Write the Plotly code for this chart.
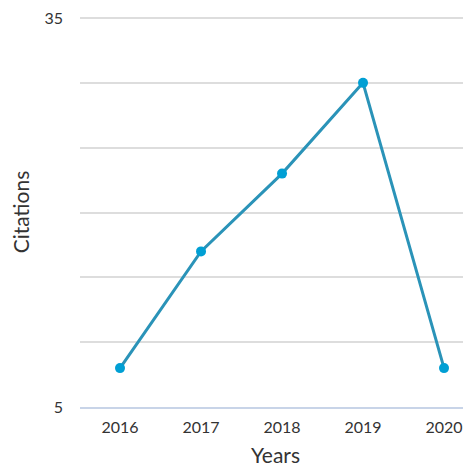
import plotly.graph_objects as go

years = ["2016", "2017", "2018", "2019", "2020"]
citations = [8, 17, 23, 30, 8]
y_tickvals = [5, 10, 15, 20, 25, 30, 35]
y_ticktext = ["5", "", "", "", "", "", "35"]

fig = go.Figure()
fig.add_trace(go.Scatter(
    x=years, y=citations, mode="lines+markers",
    line=dict(color="#2a93b8", width=3),
    marker=dict(color="#009fd4", size=10),
    showlegend=False, cliponaxis=False,
))

fig.update_layout(
    width=463, height=462,
    margin=dict(l=72, r=0, t=6, b=63),
    paper_bgcolor="white", plot_bgcolor="white",
    font=dict(family="Lato, Open Sans, sans-serif", color="#333333", size=16),
    xaxis=dict(
        type="category", range=[-0.494, 4.333],
        showgrid=False, zeroline=False, showline=True,
        linecolor="#c8d4e8", linewidth=2,
        ticks="", ticklabelstandoff=5,
        title=dict(text="Years", font=dict(size=21, color="#333333"), standoff=13),
    ),
    yaxis=dict(
        range=[5, 35.08], tickvals=y_tickvals, ticktext=y_ticktext,
        showgrid=True, gridcolor="#dddddd", gridwidth=2,
        zeroline=False, showline=False, ticks="", ticklabelstandoff=16,
        ticklabeloverflow="allow",
        title=dict(text="Citations", font=dict(size=21, color="#333333"), standoff=13),
    ),
)

fig.write_html("out.html")
